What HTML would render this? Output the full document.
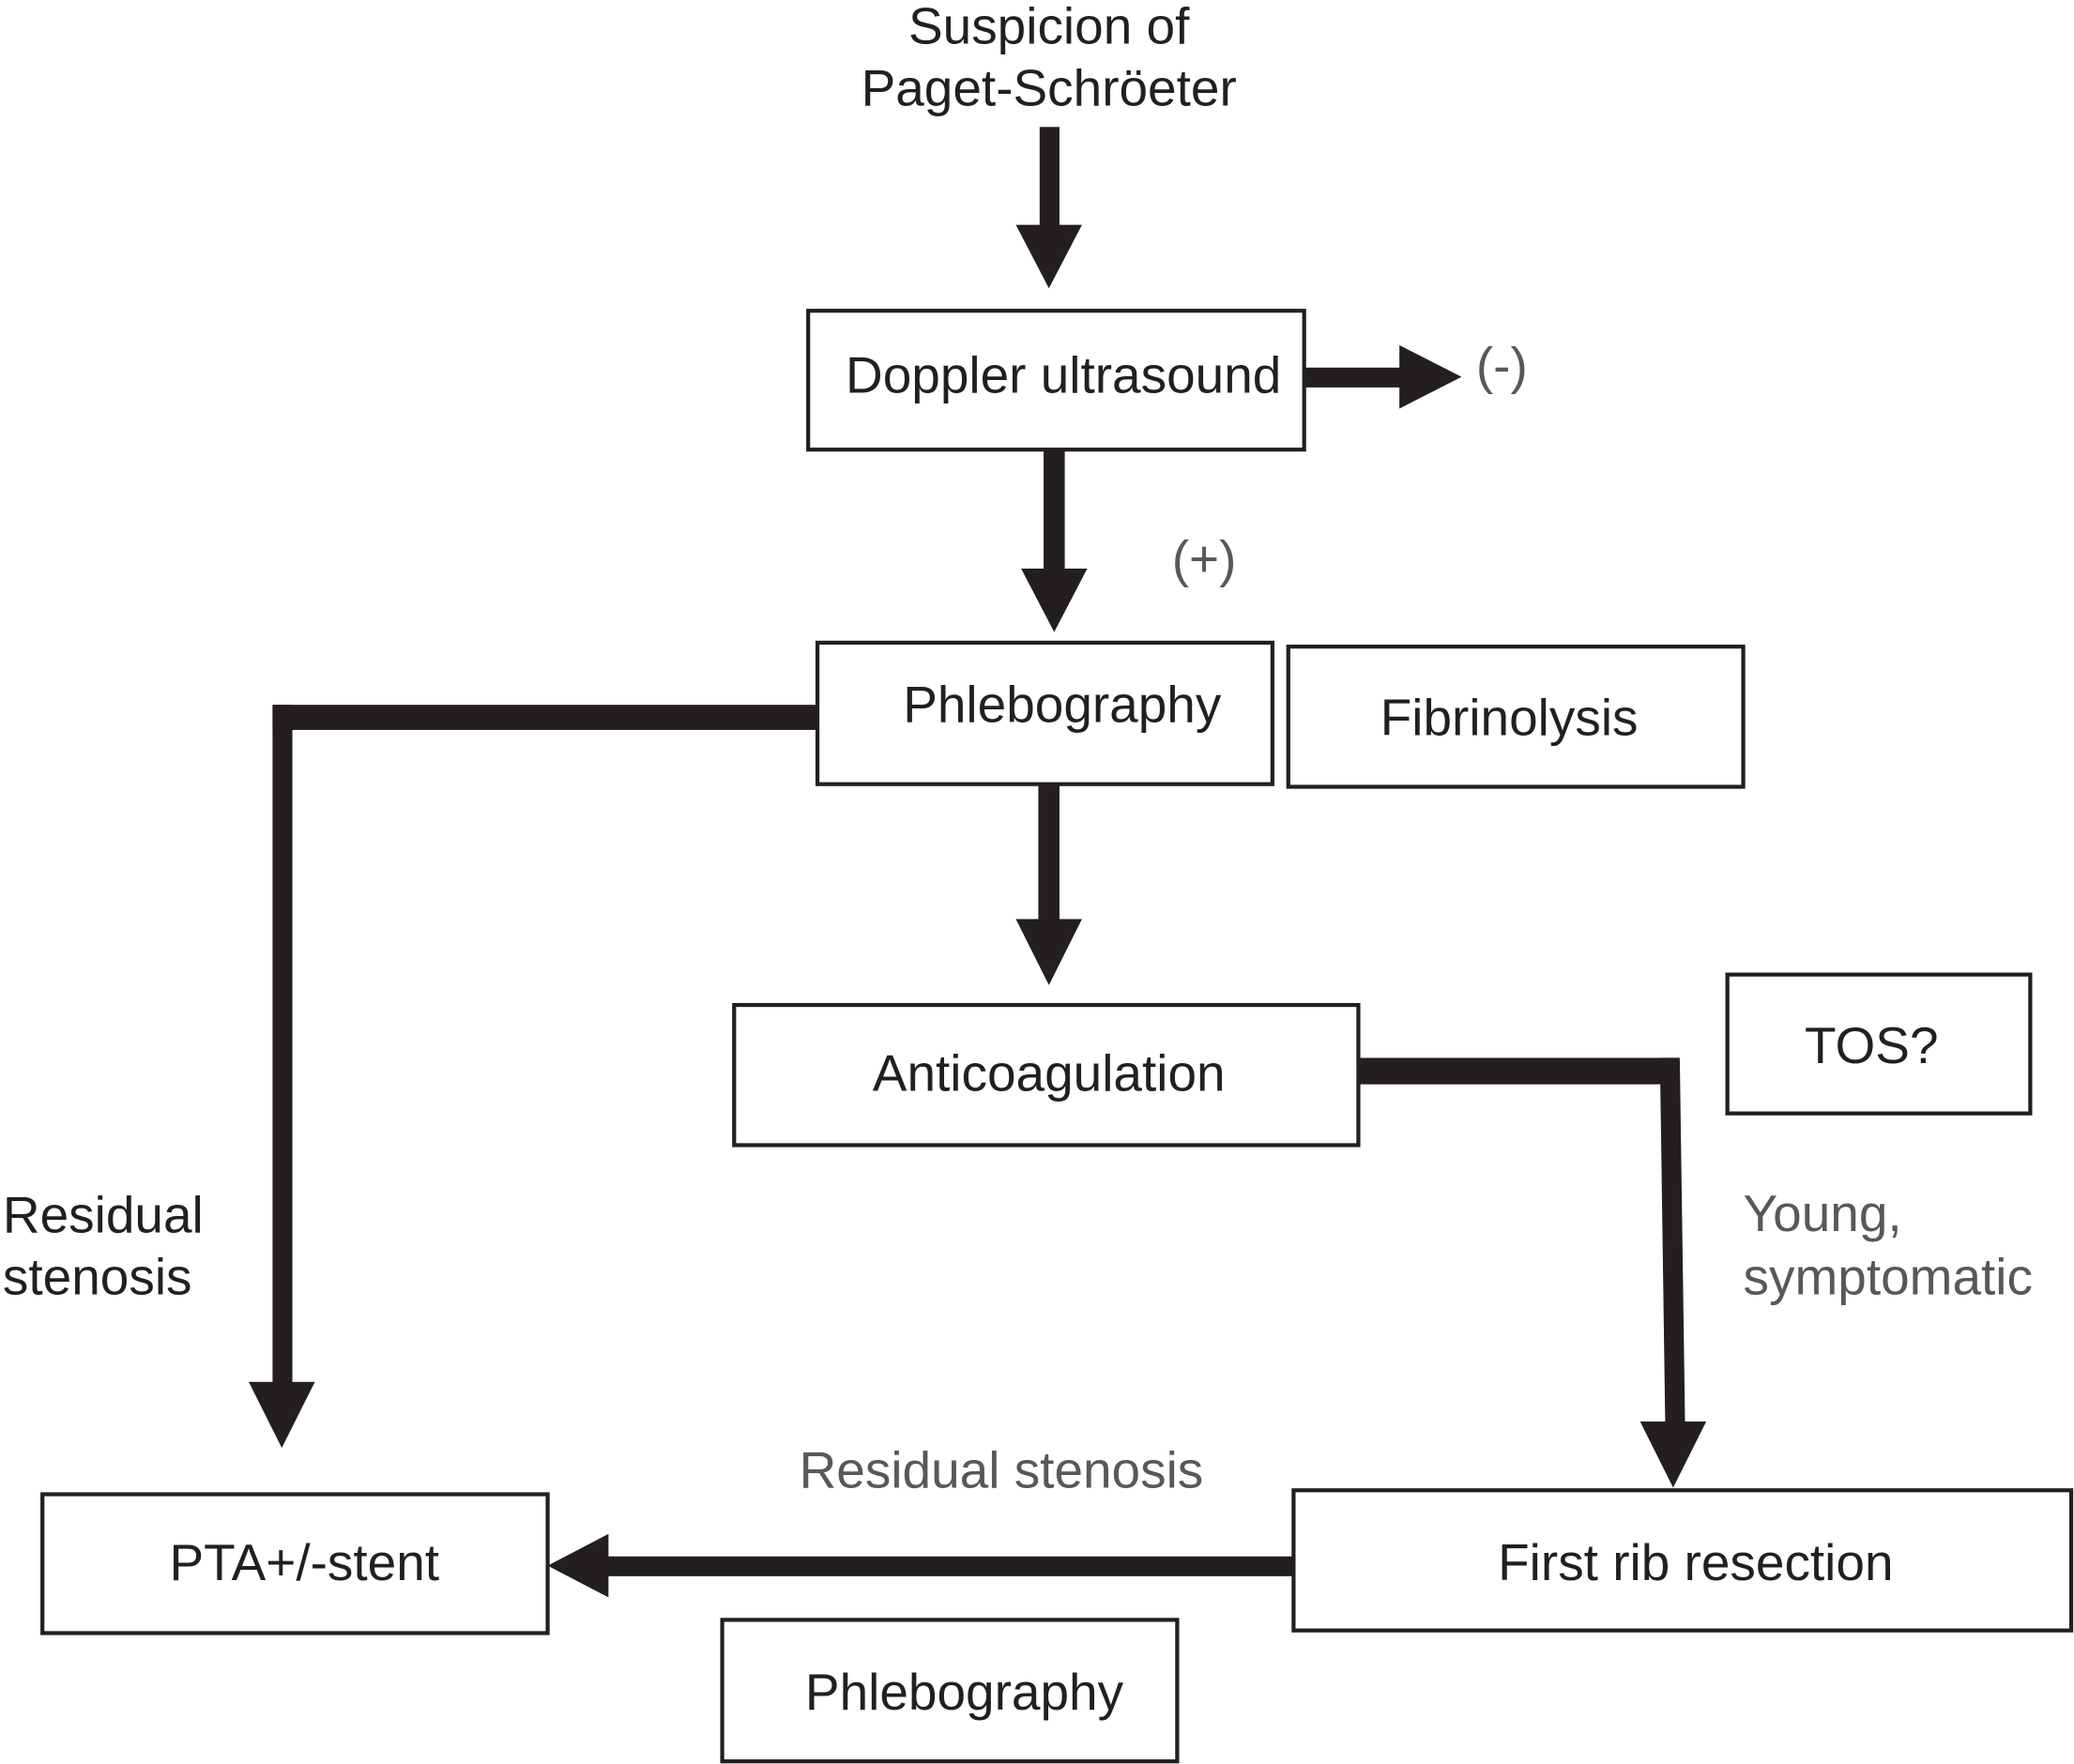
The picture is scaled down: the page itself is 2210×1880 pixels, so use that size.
<!DOCTYPE html>
<html><head><style>html,body{margin:0;padding:0;background:#fff}svg{display:block}</style></head>
<body>
<svg width="2210" height="1880" viewBox="0 0 1568 1334" xmlns="http://www.w3.org/2000/svg" font-family="Liberation Sans, sans-serif" font-size="39">
<rect width="1568" height="1334" fill="#fff"/>
<g fill="none" stroke="#231f20" stroke-width="3">
<rect x="611" y="235" width="375" height="105"/>
<rect x="618" y="486" width="344" height="107"/>
<rect x="974" y="489" width="344" height="106"/>
<rect x="555" y="760" width="472" height="106"/>
<rect x="1306" y="737" width="229" height="105"/>
<rect x="32" y="1130" width="382" height="105"/>
<rect x="978" y="1127" width="588" height="106"/>
<rect x="546" y="1225" width="344" height="107"/>
</g>
<g fill="#231f20">
<rect x="786" y="96" width="15" height="76"/><polygon points="768,170 818,170 793,218"/>
<rect x="986" y="278" width="74" height="15"/><polygon points="1058,261 1058,309 1105,285"/>
<rect x="789" y="340" width="16" height="92"/><polygon points="772,430 822,430 797,478"/>
<rect x="785" y="593" width="16" height="104"/><polygon points="768,695 818,695 793,745"/>
<rect x="206" y="533" width="412" height="19"/><rect x="206" y="533" width="15" height="514"/><polygon points="188,1045 238,1045 213,1095"/>
<rect x="1027" y="800" width="241" height="20"/><polygon points="1255,800 1270,800 1274,1077 1259,1077"/><polygon points="1240,1075 1290,1075 1265,1125"/>
<rect x="458" y="1177" width="520" height="15"/><polygon points="460,1160 460,1208 414,1184"/>
</g>
<g fill="#231f20" text-anchor="middle">
<text x="793" y="33">Suspicion of</text>
<text x="793" y="80">Paget-Schröeter</text>
<text x="804" y="297">Doppler ultrasound</text>
<text x="803" y="546">Phlebography</text>
<text x="1141" y="556">Fibrinolysis</text>
<text x="793" y="825">Anticoagulation</text>
<text x="1415" y="804">TOS?</text>
<text x="230" y="1195">PTA+/-stent</text>
<text x="1282" y="1195">First rib resection</text>
<text x="729" y="1293">Phlebography</text>
</g>
<g fill="#231f20"><text x="2" y="932">Residual</text><text x="2" y="979">stenosis</text></g>
<g fill="#58585a">
<text x="1116" y="290">(-)</text>
<text x="886" y="436">(+)</text>
<text x="1318" y="931">Young,</text>
<text x="1318" y="979">symptomatic</text>
<text x="757" y="1125" text-anchor="middle">Residual stenosis</text>
</g>
</svg>
</body></html>
